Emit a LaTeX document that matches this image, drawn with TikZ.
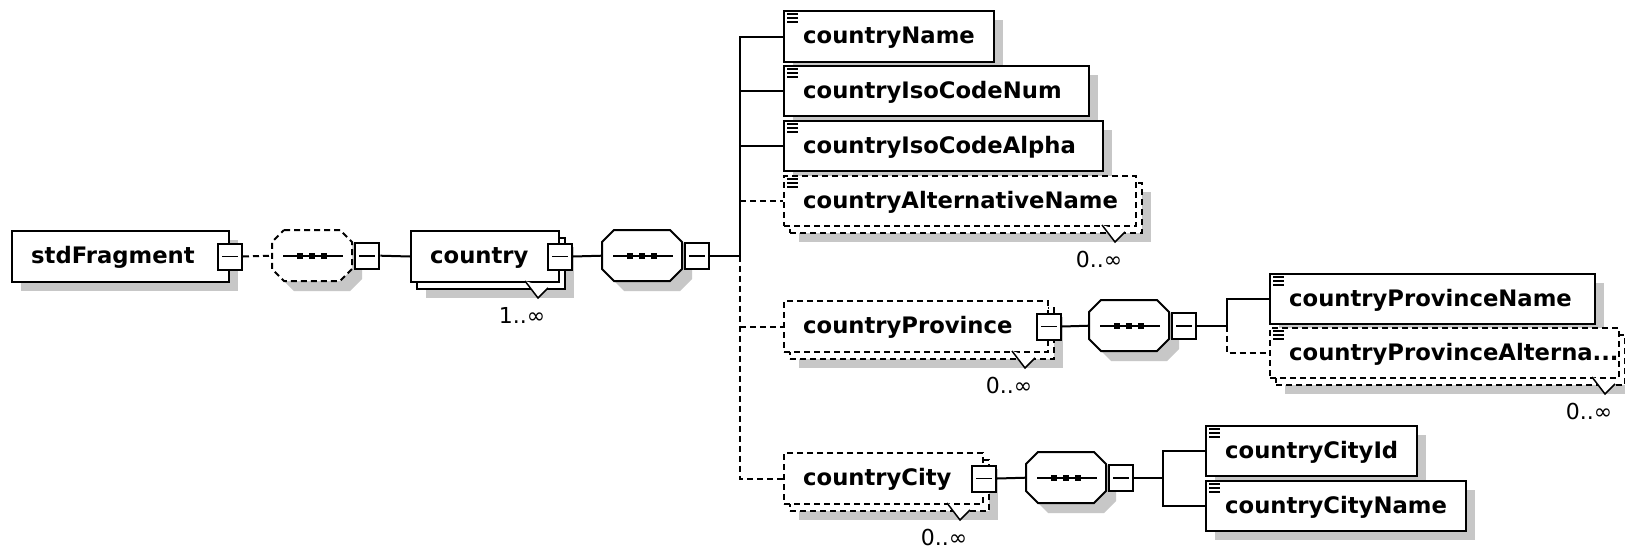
\documentclass[tikz,border=0pt]{standalone}
\usepackage{fontspec}
\setmainfont{DejaVu Sans}
\usetikzlibrary{calc}
\tikzset{
  ln/.style={line width=2pt},
  opt/.style={dash pattern=on 6pt off 4pt},
  shadowc/.style={fill=black!22},
  elbox/.style={draw, line width=2pt, fill=white, rectangle, anchor=north west, inner sep=0pt},
  eltext/.style={anchor=base west, inner sep=0pt, font=\fontsize{22.7}{27}\selectfont\bfseries},
  multlabel/.style={inner sep=0pt, font=\fontsize{22}{26}\selectfont},
  minusbox/.style={draw, line width=2pt, fill=white, minimum width=24pt, minimum height=26pt, inner sep=0pt,
    path picture={\draw[line width=1.6pt] ([xshift=4pt]path picture bounding box.west) -- ([xshift=-4pt]path picture bounding box.east);}},
  compnode/.style={inner sep=0pt, minimum width=80pt, minimum height=51pt, anchor=north west},
}
% simple element: name, x, y, w, h, line style, text
\newcommand{\xelem}[7]{%
  \fill[shadowc] (#2+10,#3+10) rectangle (#2+#4+10,#3+#5+10);
  \node[elbox,#6,minimum width=#4pt,minimum height=#5pt] (#1) at (#2,#3) {};
  \node[eltext] (#1-t) at ($(#1.north west)+(20,33.5)$) {#7};
}
% multiple element: name, x, y, w, h, line style, text, triangle x, label
\newcommand{\xmulti}[9]{%
  \fill[shadowc] (#2+16,#3+17) rectangle (#2+#4+16,#3+#5+17);
  \node[elbox,#6,minimum width=#4pt,minimum height=#5pt] (#1-b) at (#2+6,#3+7) {};
  \node[elbox,#6,minimum width=#4pt,minimum height=#5pt] (#1) at (#2,#3) {};
  \fill[white] (#8-13,#3+#5) -- (#8,#3+#5+17) -- (#8+10,#3+#5+7) -- cycle;
  \draw[line width=1.5pt] (#8-13,#3+#5) -- (#8,#3+#5+17) -- (#8+10,#3+#5+7);
  \node[eltext] (#1-t) at ($(#1.north west)+(20,33.5)$) {#7};
  \node[multlabel] (#1-l) at (#8-16,#3+#5+34) {#9};
}
\newcommand{\xicon}[1]{%
  \foreach \k in {4,8,12} \draw[line width=1.4pt] ($(#1.north west)+(4,\k)$) -- ++(11,0);
}
\newcommand{\xoct}[2]{(#1+12,#2) -- (#1+68,#2) -- (#1+80,#2+12) -- (#1+80,#2+39) -- (#1+68,#2+51) -- (#1+12,#2+51) -- (#1,#2+39) -- (#1,#2+12) -- cycle}
% compositor: name, x, y, line style
\newcommand{\xcomp}[4]{%
  \fill[shadowc] \xoct{#2+10}{#3+10};
  \draw[line width=2pt, fill=white, #4] \xoct{#2}{#3};
  \node[compnode] (#1) at (#2,#3) {};
  \draw[line width=2pt] ($(#1.west)+(11,0)$) -- ($(#1.east)+(-9,0)$);
  \foreach \d in {-12,0,12} \fill ($(#1.center)+(\d-3,-3)$) rectangle ++(6,6);
  \node[minusbox, anchor=west] (#1-m) at ($(#1.east)+(2,0)$) {};
}
\begin{document}
\begin{tikzpicture}[x=1pt,y=-1pt]
\useasboundingbox (0,0) rectangle (1625,549);
\fill[white] (0,0) rectangle (1625,549);

% root
\xelem{sf}{11}{230}{217}{51}{}{stdFragment}
\node[minusbox] (sf-m) at (sf.east) {};
\xcomp{c1}{272}{230}{opt}
\xmulti{country}{410}{230}{148}{51}{}{country}{538}{1..∞}
\node[minusbox] (country-m) at (country.east) {};
\xcomp{c2}{602}{230}{}

% children of country
\xelem{cn}{783}{10}{210}{51}{}{countryName}\xicon{cn}
\xelem{num}{783}{65}{305}{50}{}{countryIsoCodeNum}\xicon{num}
\xelem{alpha}{783}{120}{319}{50}{}{countryIsoCodeAlpha}\xicon{alpha}
\xmulti{alt}{783}{175}{352}{50}{opt}{countryAlternativeName}{1115}{0..∞}\xicon{alt}
\xmulti{prov}{783}{300}{264}{51}{opt}{countryProvince}{1025}{0..∞}
\node[minusbox] (prov-m) at (prov.east) {};
\xmulti{city}{783}{452}{199}{51}{opt}{countryCity}{960}{0..∞}
\node[minusbox] (city-m) at (city.east) {};

% province
\xcomp{c3}{1089}{300}{}
\xelem{pn}{1269}{273}{325}{50}{}{countryProvinceName}\xicon{pn}
\xmulti{pa}{1269}{327}{349}{50}{opt}{countryProvinceAlterna...}{1605}{0..∞}\xicon{pa}

% city
\xcomp{c4}{1026}{452}{}
\xelem{cid}{1205}{425}{211}{50}{}{countryCityId}\xicon{cid}
\xelem{cnm}{1205}{480}{260}{50}{}{countryCityName}\xicon{cnm}

% bus coordinates
\coordinate (bus1) at (740,0);
\coordinate (bus2) at (1227,0);
\coordinate (bus3) at (1163,0);

% connectors
\draw[ln,opt] (sf-m.east) -- (c1.west);
\draw[ln] (c1-m.east) -- (country.west);
\draw[ln] (country-m.east) -- (c2.west);
\draw[ln] (c2-m.east) -- (bus1 |- c2-m.east);
\draw[ln] (cn.west) -| (bus1 |- c2-m.east);
\draw[ln] (bus1 |- num.west) -- (num.west);
\draw[ln] (bus1 |- alpha.west) -- (alpha.west);
\draw[ln,opt] (bus1 |- c2-m.east) |- (city.west);
\draw[ln,opt] (bus1 |- alt.west) -- (alt.west);
\draw[ln,opt] (bus1 |- prov.west) -- (prov.west);

\draw[ln] (prov-m.east) -- (c3.west);
\draw[ln] (c3-m.east) -- (bus2 |- c3-m.east);
\draw[ln] (pn.west) -| (bus2 |- c3-m.east);
\draw[ln,opt] (bus2 |- c3-m.east) |- (pa.west);

\draw[ln] (city-m.east) -- (c4.west);
\draw[ln] (c4-m.east) -- (bus3 |- c4-m.east);
\draw[ln] (cid.west) -| (bus3 |- cnm.west) -- (cnm.west);
\end{tikzpicture}
\end{document}
